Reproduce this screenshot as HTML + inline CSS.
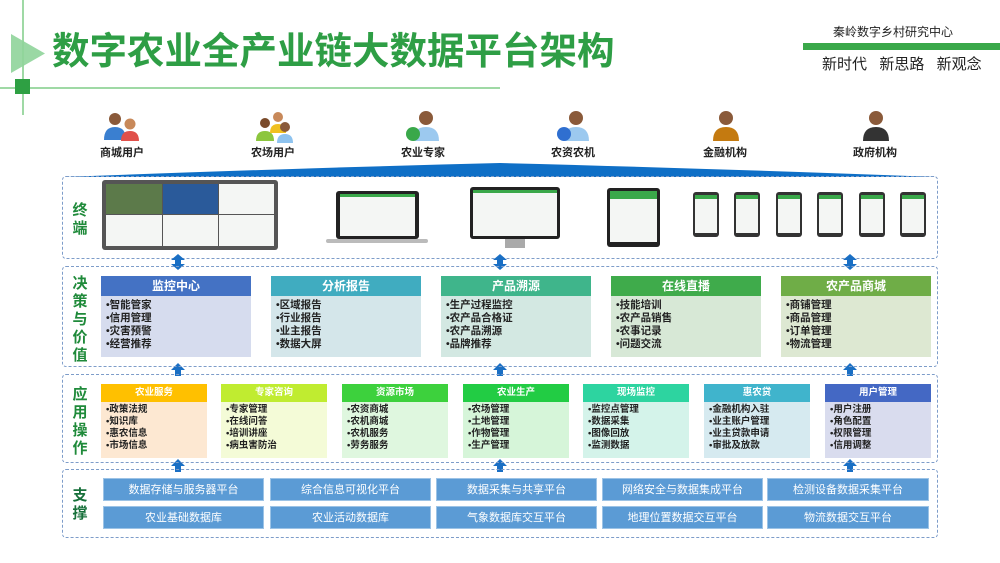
<!DOCTYPE html>
<html><head><meta charset="utf-8"><style>
*{margin:0;padding:0;box-sizing:border-box}
body{width:1000px;height:563px;background:#fff;position:relative;overflow:hidden;font-family:"Liberation Sans","Noto Sans CJK SC",sans-serif}
.a{position:absolute}
.box{position:absolute;border:1.5px dashed #7d9cc9;border-radius:4px}
.lab{position:absolute;color:#1f8a3a;font-weight:bold;font-size:15px;line-height:18px;width:18px;text-align:center}
.card .h{color:#fff;font-weight:bold;text-align:center}
.card .b{color:#222;font-weight:bold}
.sup{position:absolute;background:#5b9bd5;color:#fff;font-size:11px;text-align:center;line-height:23px;height:23px;border:1px solid #9cc3e6}
.dev{position:absolute;background:#333;border-radius:3px}
.scr{position:absolute;background:#f4f6f4}
</style></head><body>
<div class="a" style="left:22px;top:0;width:2px;height:115px;background:#9fd9a5"></div>
<div class="a" style="left:0;top:87px;width:500px;height:2px;background:#9fd9a5"></div>
<svg class="a" style="left:11px;top:34px" width="36" height="40"><polygon points="0,0 34,19.5 0,39" fill="#8fd49a" opacity="0.9"/></svg>
<div class="a" style="left:15px;top:79px;width:15px;height:15px;background:#2ea043"></div>
<div class="a" style="left:52px;top:29px;font-size:37.5px;font-weight:bold;color:#2e9e45;line-height:44px;white-space:nowrap">数字农业全产业链大数据平台架构</div>
<div class="a" style="left:833px;top:23px;font-size:12px;color:#222;white-space:nowrap">秦岭数字乡村研究中心</div>
<div class="a" style="left:803px;top:43px;width:197px;height:7px;background:#3aa84a"></div>
<div class="a" style="left:822px;top:53px;font-size:15px;color:#222;white-space:nowrap;word-spacing:2px">新时代&nbsp;&nbsp;新思路&nbsp;&nbsp;新观念</div>

<svg class="a" style="left:0;top:105px" width="1000" height="60">
<g font-size="11" font-weight="bold" fill="#222" text-anchor="middle" font-family="Liberation Sans,Noto Sans CJK SC,sans-serif">
<text x="122" y="51">商城用户</text><text x="273" y="51">农场用户</text><text x="423" y="51">农业专家</text><text x="573" y="51">农资农机</text><text x="725" y="51">金融机构</text><text x="875" y="51">政府机构</text>
</g>
<g>
<circle cx="115" cy="14" r="6" fill="#8a5a3a"/><path d="M104 35 q0-13 11-13 q11 0 11 13z" fill="#3a7fd0"/>
<circle cx="130" cy="19" r="5.5" fill="#c8895a"/><path d="M121 36 q0-10 9-10 q9 0 9 10z" fill="#e0504a"/>
<circle cx="265" cy="18" r="5" fill="#7a4a2a"/><path d="M256 36 q0-10 9-10 q9 0 9 10z" fill="#8cc63e"/>
<circle cx="278" cy="12" r="5" fill="#c8895a"/><path d="M270 28 q0-9 8-9 q8 0 8 9z" fill="#f0c020"/>
<circle cx="285" cy="22" r="5" fill="#8a5a3a"/><path d="M277 38 q0-9 8-9 q8 0 8 9z" fill="#8ec3ef"/>
<circle cx="426" cy="13" r="7" fill="#8a5a3a"/><path d="M413 36 q0-14 13-14 q13 0 13 14z" fill="#9cc9ef"/><circle cx="413" cy="29" r="7" fill="#3aa84a"/>
<circle cx="576" cy="13" r="7" fill="#8a5a3a"/><path d="M563 36 q0-14 13-14 q13 0 13 14z" fill="#9cc9ef"/><circle cx="564" cy="29" r="7" fill="#2f6fd0"/>
<circle cx="726" cy="13" r="7" fill="#8a5a3a"/><path d="M713 36 q0-14 13-14 q13 0 13 14z" fill="#c47a10"/>
<circle cx="876" cy="13" r="7" fill="#8a5a3a"/><path d="M863 36 q0-14 13-14 q13 0 13 14z" fill="#333"/>
</g>
</svg>
<svg class="a" style="left:0;top:160px" width="1000" height="20"><path d="M65 17 Q300 8 500 3 Q700 8 937 17 Z" fill="#0f6fc6"/></svg>

<div class="box" style="left:62px;top:176px;width:876px;height:83px"></div>
<div class="lab" style="left:71px;top:202px">终端</div>
<div class="dev" style="left:102px;top:180px;width:176px;height:70px;background:#555"></div>
<div class="scr" style="left:106px;top:184px;width:56px;height:30px;background:#5c7a4a"></div>
<div class="scr" style="left:163px;top:184px;width:55px;height:30px;background:#2a5a9a"></div>
<div class="scr" style="left:219px;top:184px;width:55px;height:30px"></div>
<div class="scr" style="left:106px;top:215px;width:56px;height:31px"></div>
<div class="scr" style="left:163px;top:215px;width:55px;height:31px"></div>
<div class="scr" style="left:219px;top:215px;width:55px;height:31px"></div>
<div class="dev" style="left:336px;top:191px;width:83px;height:48px;background:#222"></div>
<div class="scr" style="left:340px;top:194px;width:75px;height:42px;border-top:3px solid #3aa84a"></div>
<div class="a" style="left:326px;top:239px;width:102px;height:4px;background:#bbb;border-radius:2px"></div>
<div class="dev" style="left:470px;top:187px;width:90px;height:52px;background:#222"></div>
<div class="scr" style="left:473px;top:190px;width:84px;height:46px;border-top:3px solid #3aa84a"></div>
<div class="a" style="left:505px;top:239px;width:20px;height:9px;background:#aaa"></div>
<div class="dev" style="left:607px;top:188px;width:53px;height:59px;background:#222"></div>
<div class="scr" style="left:610px;top:191px;width:47px;height:51px;border-top:8px solid #3aa84a"></div>
<div class="dev" style="left:693px;top:192px;width:26px;height:45px"></div><div class="scr" style="left:695px;top:195px;width:22px;height:38px;border-top:4px solid #3aa84a"></div>
<div class="dev" style="left:734px;top:192px;width:26px;height:45px"></div><div class="scr" style="left:736px;top:195px;width:22px;height:38px;border-top:4px solid #3aa84a"></div>
<div class="dev" style="left:776px;top:192px;width:26px;height:45px"></div><div class="scr" style="left:778px;top:195px;width:22px;height:38px;border-top:4px solid #3aa84a"></div>
<div class="dev" style="left:817px;top:192px;width:26px;height:45px"></div><div class="scr" style="left:819px;top:195px;width:22px;height:38px;border-top:4px solid #3aa84a"></div>
<div class="dev" style="left:859px;top:192px;width:26px;height:45px"></div><div class="scr" style="left:861px;top:195px;width:22px;height:38px;border-top:4px solid #3aa84a"></div>
<div class="dev" style="left:900px;top:192px;width:26px;height:45px"></div><div class="scr" style="left:902px;top:195px;width:22px;height:38px;border-top:4px solid #3aa84a"></div>

<svg class="a" style="left:0;top:250px" width="1000" height="230">
<g fill="#1a6fc4">
<path d="M171 10 l7-6 l7 6 l-4 0 l0 4 l4 0 l-7 6 l-7-6 l4 0 l0-4z"/>
<path d="M493 10 l7-6 l7 6 l-4 0 l0 4 l4 0 l-7 6 l-7-6 l4 0 l0-4z"/>
<path d="M843 10 l7-6 l7 6 l-4 0 l0 4 l4 0 l-7 6 l-7-6 l4 0 l0-4z"/>
<path d="M171 120 l7-7 l7 7 l-4 0 l0 6 l-6 0 l0-6z"/>
<path d="M493 120 l7-7 l7 7 l-4 0 l0 6 l-6 0 l0-6z"/>
<path d="M843 120 l7-7 l7 7 l-4 0 l0 6 l-6 0 l0-6z"/>
<path d="M171 216 l7-7 l7 7 l-4 0 l0 6 l-6 0 l0-6z"/>
<path d="M493 216 l7-7 l7 7 l-4 0 l0 6 l-6 0 l0-6z"/>
<path d="M843 216 l7-7 l7 7 l-4 0 l0 6 l-6 0 l0-6z"/>
</g></svg>

<div class="box" style="left:62px;top:266px;width:876px;height:101px"></div>
<div class="lab" style="left:71px;top:275px">决策与价值</div>
<div class="card a" style="left:101px;top:276px;width:150px;height:81px;background:#d6dcee"><div class="h" style="background:#4472c4;height:20px;line-height:20px;font-size:12px">监控中心</div><div class="b" style="font-size:10.5px;line-height:13px;padding:3px 0 0 5px">•智能管家<br>•信用管理<br>•灾害预警<br>•经营推荐</div></div>
<div class="card a" style="left:271px;top:276px;width:150px;height:81px;background:#d4e6ea"><div class="h" style="background:#40acc0;height:20px;line-height:20px;font-size:12px">分析报告</div><div class="b" style="font-size:10.5px;line-height:13px;padding:3px 0 0 5px">•区域报告<br>•行业报告<br>•业主报告<br>•数据大屏</div></div>
<div class="card a" style="left:441px;top:276px;width:150px;height:81px;background:#d3e8e2"><div class="h" style="background:#3fb58b;height:20px;line-height:20px;font-size:12px">产品溯源</div><div class="b" style="font-size:10.5px;line-height:13px;padding:3px 0 0 5px">•生产过程监控<br>•农产品合格证<br>•农产品溯源<br>•品牌推荐</div></div>
<div class="card a" style="left:611px;top:276px;width:150px;height:81px;background:#d7e8d6"><div class="h" style="background:#3fab4b;height:20px;line-height:20px;font-size:12px">在线直播</div><div class="b" style="font-size:10.5px;line-height:13px;padding:3px 0 0 5px">•技能培训<br>•农产品销售<br>•农事记录<br>•问题交流</div></div>
<div class="card a" style="left:781px;top:276px;width:150px;height:81px;background:#dde8d2"><div class="h" style="background:#6fad47;height:20px;line-height:20px;font-size:12px">农产品商城</div><div class="b" style="font-size:10.5px;line-height:13px;padding:3px 0 0 5px">•商铺管理<br>•商品管理<br>•订单管理<br>•物流管理</div></div>

<div class="box" style="left:62px;top:374px;width:876px;height:89px"></div>
<div class="lab" style="left:71px;top:386px">应用操作</div>
<div class="card a" style="left:101px;top:384px;width:106px;height:74px;background:#fde8d2"><div class="h" style="background:#ffc000;height:18px;line-height:18px;font-size:9.5px">农业服务</div><div class="b" style="font-size:9.5px;line-height:12px;padding:2px 0 0 5px">•政策法规<br>•知识库<br>•惠农信息<br>•市场信息</div></div>
<div class="card a" style="left:221px;top:384px;width:106px;height:74px;background:#f4fbd7"><div class="h" style="background:#c0ec30;height:18px;line-height:18px;font-size:9.5px">专家咨询</div><div class="b" style="font-size:9.5px;line-height:12px;padding:2px 0 0 5px">•专家管理<br>•在线问答<br>•培训讲座<br>•病虫害防治</div></div>
<div class="card a" style="left:342px;top:384px;width:106px;height:74px;background:#dff7df"><div class="h" style="background:#3dd13d;height:18px;line-height:18px;font-size:9.5px">资源市场</div><div class="b" style="font-size:9.5px;line-height:12px;padding:2px 0 0 5px">•农资商城<br>•农机商城<br>•农机服务<br>•劳务服务</div></div>
<div class="card a" style="left:463px;top:384px;width:106px;height:74px;background:#d6f5d9"><div class="h" style="background:#22cc44;height:18px;line-height:18px;font-size:9.5px">农业生产</div><div class="b" style="font-size:9.5px;line-height:12px;padding:2px 0 0 5px">•农场管理<br>•土地管理<br>•作物管理<br>•生产管理</div></div>
<div class="card a" style="left:583px;top:384px;width:106px;height:74px;background:#d4f3ea"><div class="h" style="background:#2dd4a0;height:18px;line-height:18px;font-size:9.5px">现场监控</div><div class="b" style="font-size:9.5px;line-height:12px;padding:2px 0 0 5px">•监控点管理<br>•数据采集<br>•图像回放<br>•监测数据</div></div>
<div class="card a" style="left:704px;top:384px;width:106px;height:74px;background:#d6eaf0"><div class="h" style="background:#40b4cc;height:18px;line-height:18px;font-size:9.5px">惠农贷</div><div class="b" style="font-size:9.5px;line-height:12px;padding:2px 0 0 5px">•金融机构入驻<br>•业主账户管理<br>•业主贷款申请<br>•审批及放款</div></div>
<div class="card a" style="left:825px;top:384px;width:106px;height:74px;background:#d9dcee"><div class="h" style="background:#4468c4;height:18px;line-height:18px;font-size:9.5px">用户管理</div><div class="b" style="font-size:9.5px;line-height:12px;padding:2px 0 0 5px">•用户注册<br>•角色配置<br>•权限管理<br>•信用调整</div></div>

<div class="box" style="left:62px;top:469px;width:876px;height:69px"></div>
<div class="lab" style="left:71px;top:487px;color:#17703a">支撑</div>
<div class="sup" style="left:103px;top:478px;width:161px">数据存储与服务器平台</div>
<div class="sup" style="left:270px;top:478px;width:161px">综合信息可视化平台</div>
<div class="sup" style="left:436px;top:478px;width:161px">数据采集与共享平台</div>
<div class="sup" style="left:602px;top:478px;width:161px">网络安全与数据集成平台</div>
<div class="sup" style="left:767px;top:478px;width:162px">检测设备数据采集平台</div>
<div class="sup" style="left:103px;top:506px;width:161px">农业基础数据库</div>
<div class="sup" style="left:270px;top:506px;width:161px">农业活动数据库</div>
<div class="sup" style="left:436px;top:506px;width:161px">气象数据库交互平台</div>
<div class="sup" style="left:602px;top:506px;width:161px">地理位置数据交互平台</div>
<div class="sup" style="left:767px;top:506px;width:162px">物流数据交互平台</div>
</body></html>
